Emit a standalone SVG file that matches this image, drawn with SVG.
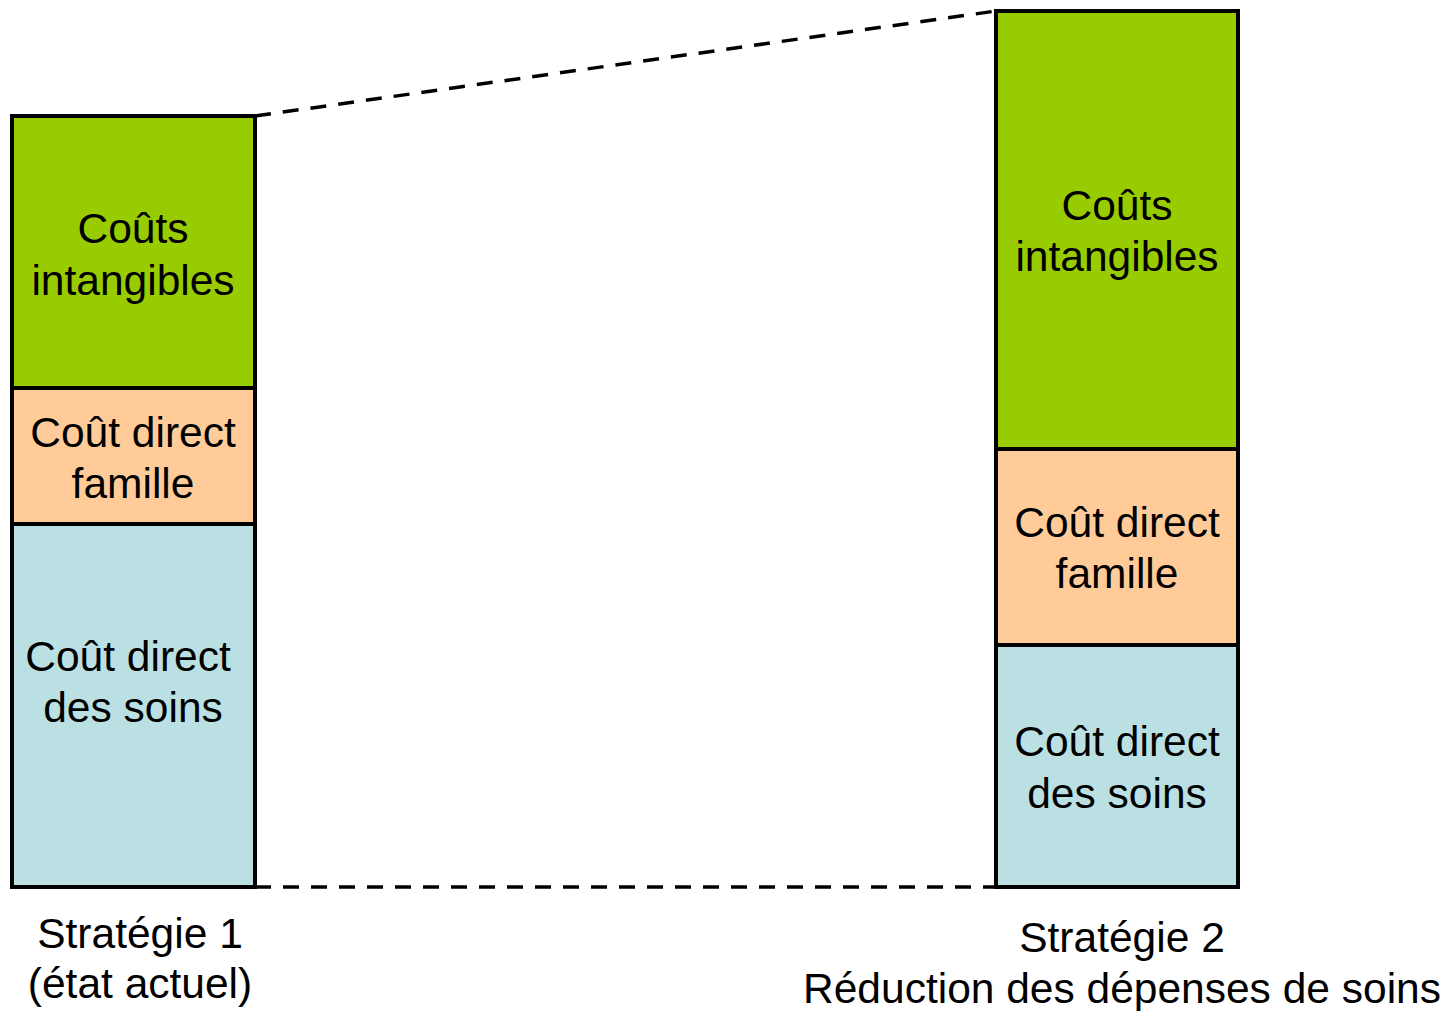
<svg xmlns="http://www.w3.org/2000/svg" width="1446" height="1011" viewBox="0 0 1446 1011">
<style>
.seg{stroke:#000;stroke-width:4}
.g{fill:#99CC00}.o{fill:#FFCC99}.b{fill:#BBE0E3}
text{font-family:"Liberation Sans",Arial,sans-serif;font-size:42.5px;fill:#000;text-anchor:middle}
.dash{stroke:#000;stroke-width:3.5;stroke-dasharray:16 12;fill:none}
</style>
<rect width="1446" height="1011" fill="#fff"/>
<g id="connectors">
<line class="dash" x1="255" y1="116" x2="996" y2="11"/>
<line class="dash" x1="255" y1="887" x2="1040" y2="887"/>
</g>
<g id="s1-intangibles"><rect class="seg g" x="12" y="116" width="243" height="272"/><text x="133" y="243">Coûts</text><text x="133" y="295">intangibles</text></g>
<g id="s1-famille"><rect class="seg o" x="12" y="388" width="243" height="136"/><text x="133" y="447">Coût direct</text><text x="133" y="498">famille</text></g>
<g id="s1-soins"><rect class="seg b" x="12" y="524" width="243" height="363"/><text x="128" y="671">Coût direct</text><text x="133" y="722">des soins</text></g>
<g id="s2-intangibles"><rect class="seg g" x="996" y="11" width="242" height="438"/><text x="1117" y="220">Coûts</text><text x="1117" y="271">intangibles</text></g>
<g id="s2-famille"><rect class="seg o" x="996" y="449" width="242" height="196"/><text x="1117" y="537">Coût direct</text><text x="1117" y="588">famille</text></g>
<g id="s2-soins"><rect class="seg b" x="996" y="645" width="242" height="242"/><text x="1117" y="756">Coût direct</text><text x="1117" y="808">des soins</text></g>
<g id="label-s1"><text x="140" y="948">Stratégie 1</text><text x="140" y="998">(état actuel)</text></g>
<g id="label-s2"><text x="1122" y="952">Stratégie 2</text><text x="1122" y="1003">Réduction des dépenses de soins</text></g>
</svg>
